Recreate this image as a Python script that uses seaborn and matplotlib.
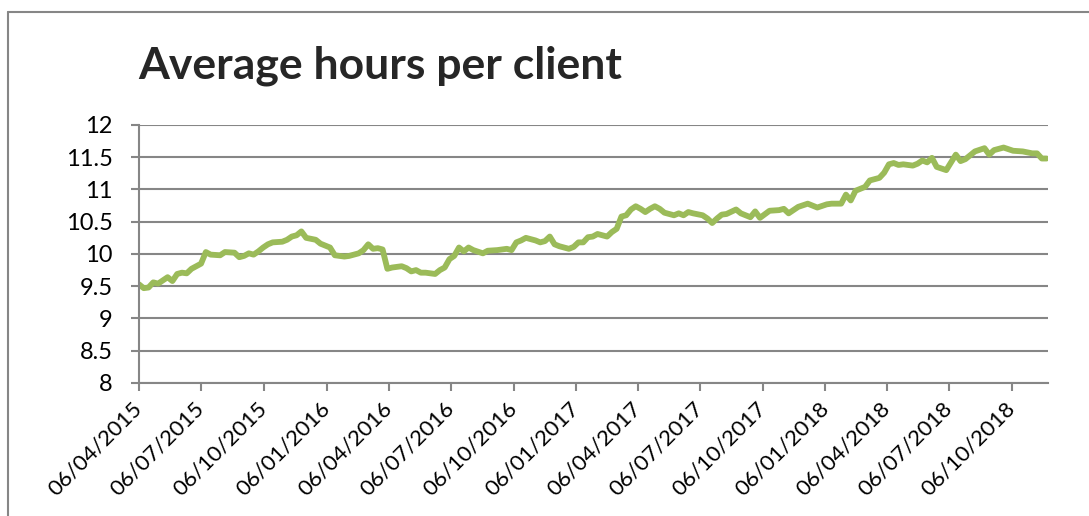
import numpy as np
import pandas as pd
import matplotlib.pyplot as plt
import matplotlib.dates as mdates
from matplotlib.lines import Line2D
import seaborn as sns

# weekly series, week 0 = 06/04/2015
start_date = "2015-04-06"
end_date = "2018-11-28"
week_no = [0, 1, 2, 3, 4, 6, 7, 8, 9, 10, 11, 13, 14, 15, 17, 18, 20, 21, 22, 23,
           24, 25, 26, 27, 28, 30, 31, 32, 33, 34, 35, 37, 38, 40, 41, 43, 44, 46, 47, 48,
           49, 50, 51, 52, 53, 55, 56, 57, 58, 59, 60, 62, 63, 64, 65, 66, 67, 68, 69, 70,
           72, 73, 75, 77, 78, 79, 80, 81, 83, 84, 85, 86, 87, 88, 90, 91, 92, 93, 94, 95,
           96, 98, 99, 100, 101, 102, 103, 104, 105, 106, 107, 108, 109, 110, 112, 113, 114, 115, 116, 118,
           119, 120, 121, 122, 123, 125, 126, 128, 129, 130, 132, 134, 135, 136, 138, 140, 142, 144, 145, 147,
           148, 149, 150, 152, 153, 155, 156, 157, 158, 159, 160, 162, 163, 164, 165, 166, 167, 169, 171, 172,
           173, 175, 177, 178, 179, 181, 183, 185, 187, 188, 189, 190]
hours = [9.53, 9.47, 9.48, 9.56, 9.54, 9.64, 9.58, 9.69, 9.71, 9.70, 9.77, 9.85, 10.03, 9.99, 9.98, 10.03, 10.02, 9.95, 9.97, 10.01,
         9.99, 10.04, 10.10, 10.15, 10.18, 10.19, 10.22, 10.27, 10.29, 10.35, 10.25, 10.22, 10.16, 10.10, 9.98, 9.96, 9.97, 10.01, 10.06, 10.15,
         10.08, 10.09, 10.07, 9.77, 9.79, 9.81, 9.78, 9.73, 9.75, 9.71, 9.71, 9.69, 9.75, 9.79, 9.92, 9.97, 10.10, 10.04, 10.10, 10.06,
         10.01, 10.05, 10.06, 10.08, 10.06, 10.18, 10.21, 10.25, 10.21, 10.18, 10.20, 10.27, 10.15, 10.12, 10.08, 10.11, 10.18, 10.18, 10.26, 10.27,
         10.31, 10.27, 10.34, 10.39, 10.58, 10.60, 10.69, 10.74, 10.70, 10.65, 10.70, 10.74, 10.70, 10.64, 10.60, 10.63, 10.60, 10.65, 10.63, 10.60,
         10.55, 10.48, 10.55, 10.61, 10.62, 10.69, 10.63, 10.57, 10.66, 10.56, 10.67, 10.68, 10.70, 10.63, 10.73, 10.78, 10.72, 10.77, 10.78, 10.78,
         10.92, 10.83, 10.98, 11.04, 11.14, 11.18, 11.26, 11.39, 11.41, 11.38, 11.39, 11.37, 11.40, 11.45, 11.42, 11.49, 11.35, 11.30, 11.54, 11.44,
         11.47, 11.59, 11.64, 11.54, 11.61, 11.65, 11.60, 11.59, 11.56, 11.56, 11.48, 11.48]

tick_dates = ["2015-04-06", "2015-07-06", "2015-10-06", "2016-01-06", "2016-04-06",
              "2016-07-06", "2016-10-06", "2017-01-06", "2017-04-06", "2017-07-06",
              "2017-10-06", "2018-01-06", "2018-04-06", "2018-07-06", "2018-10-06"]
y_ticks = [8, 8.5, 9, 9.5, 10, 10.5, 11, 11.5, 12]

df = pd.DataFrame({
    "date": pd.Timestamp(start_date) + pd.to_timedelta(np.array(week_no) * 7, unit="D"),
    "hours": hours,
})

sns.set_theme(style="white")
plt.rcParams["font.family"] = ["Lato", "DejaVu Sans"]

grey = "#868686"
fig = plt.figure(figsize=(10.89, 5.16), dpi=100)
ax = fig.add_axes([0.1276, 0.2578, 0.8347, 0.5])

sns.lineplot(data=df, x="date", y="hours", color="#9BBB59", linewidth=4.2, ax=ax)

ax.set_ylim(8, 12)
ax.set_yticks(y_ticks)
ax.yaxis.set_major_formatter(lambda v, p: f"{v:g}")
ax.set_xlim(pd.Timestamp(start_date), pd.Timestamp(end_date))
ax.set_xticks(pd.to_datetime(tick_dates))
ax.xaxis.set_major_formatter(mdates.DateFormatter("%d/%m/%Y"))
ax.set_xlabel("")
ax.set_ylabel("")

ax.grid(axis="y", color=grey, linewidth=1.5)
ax.set_axisbelow(True)
for side in ["top", "right"]:
    ax.spines[side].set_visible(False)
for side in ["left", "bottom"]:
    ax.spines[side].set_color(grey)
    ax.spines[side].set_linewidth(1.5)

ax.tick_params(axis="y", left=True, length=6, width=1.5, color=grey, pad=13,
               labelsize=17, labelcolor="black")
ax.tick_params(axis="x", bottom=True, length=6, width=1.5, color=grey, pad=10,
               labelsize=16, labelcolor="black")
plt.setp(ax.get_xticklabels(), rotation=45, ha="right", va="center",
         rotation_mode="anchor")

fig.text(138 / 1089, 1 - 66 / 516, "Average hours per client", fontsize=32,
         fontweight="bold", ha="left", va="center")

# outer chart frame, cut by the picture edges
fig.add_artist(Line2D([8 / 1089, 8 / 1089], [0, 1 - 12 / 516], color=grey, linewidth=1.5))
fig.add_artist(Line2D([8 / 1089, 1], [1 - 12 / 516, 1 - 12 / 516], color=grey, linewidth=1.5))

fig.savefig("out.png", dpi=100)
